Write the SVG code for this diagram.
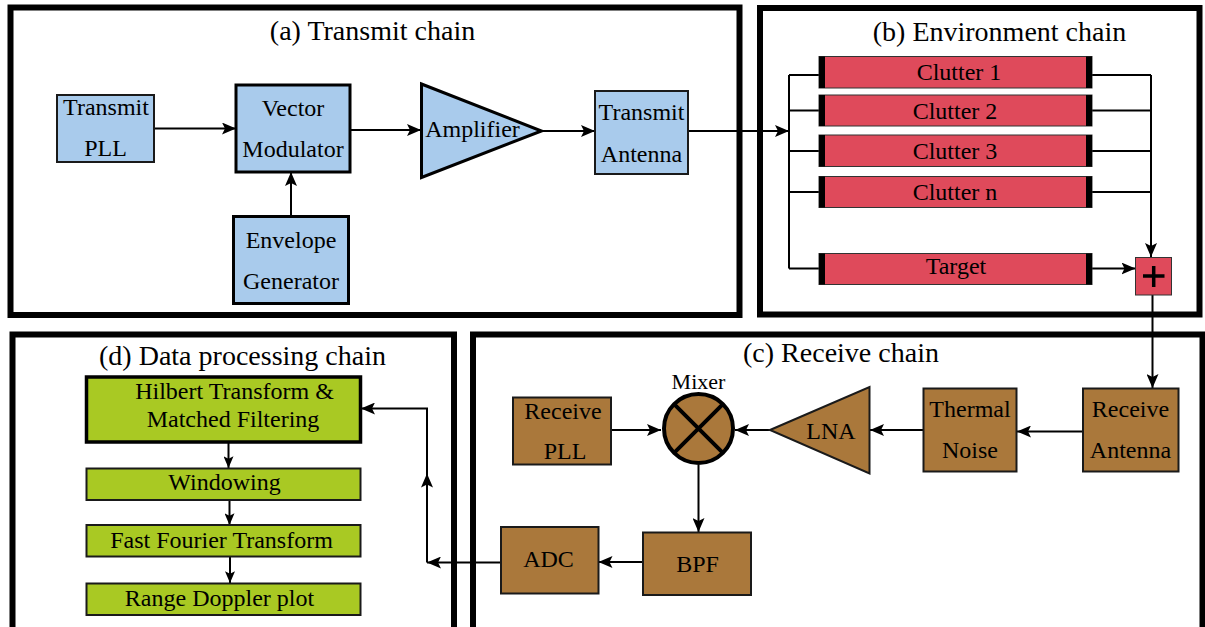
<svg xmlns="http://www.w3.org/2000/svg" width="1205" height="627" viewBox="0 0 1205 627">
  <style>
    .title { font-size: 28px; text-anchor: middle; }
    .lbl { font-size: 24px; text-anchor: middle; }
    .panel { fill: #fff; stroke: #000; stroke-width: 6; }
    .tx { fill: #a9cbec; stroke: #1a1a1a; stroke-width: 2; }
    .txb { fill: #a9cbec; stroke: #000; stroke-width: 3; }
    .rx { fill: #aa783b; stroke: #1a1a1a; stroke-width: 2; }
    .env { fill: #df4a5b; stroke: #333; stroke-width: 1; }
    .cap { fill: #000; }
    .dp { fill: #a9c923; stroke: #1a1a1a; stroke-width: 2; }
    .dpb { fill: #a9c923; stroke: #000; stroke-width: 3.5; }
    .wire { fill: none; stroke: #000; stroke-width: 2; }
    .arr { marker-end: url(#ah); }
    .arrs { marker-end: url(#ahs); }
  </style>
  <defs>
    <marker id="ah" markerUnits="userSpaceOnUse" viewBox="0 0 14 12" markerWidth="14" markerHeight="12" refX="14" refY="6" orient="auto">
      <path d="M0,0 L14,6 L0,12 L3,6 Z" fill="#000"/>
    </marker>
    <marker id="ahs" markerUnits="userSpaceOnUse" viewBox="0 0 14 12" markerWidth="12" markerHeight="10" refX="14" refY="6" orient="auto">
      <path d="M0,0 L14,6 L0,12 L3,6 Z" fill="#000"/>
    </marker>
  </defs>

  <rect width="1205" height="627" fill="#fff"/>

  <g font-family="'Liberation Serif', 'Times New Roman', Times, 'DejaVu Serif', serif" fill="#000">

  <!-- chain frames -->
  <g id="frames">
    <rect class="panel" x="10.5" y="7.5" width="729" height="307.5"/>
    <rect class="panel" x="760" y="8" width="439.5" height="306.5"/>
    <rect class="panel" x="12.5" y="334.5" width="441.5" height="310"/>
    <rect class="panel" x="473" y="334.5" width="729.5" height="310"/>
    <text class="title" x="372.5" y="40">(a) Transmit chain</text>
    <text class="title" x="999.5" y="40.5">(b) Environment chain</text>
    <text class="title" x="242.5" y="365">(d) Data processing chain</text>
    <text class="title" x="841" y="362">(c) Receive chain</text>
  </g>

  <!-- connectors -->
  <g id="connectors">
    <!-- transmit chain -->
    <path class="wire arr" d="M154,128.5 H236"/>
    <path class="wire arr" d="M291,216 V172"/>
    <path class="wire arr" d="M350,130 H421"/>
    <path class="wire arr" d="M542,131 H595"/>
    <path class="wire arr" d="M688,131 H789"/>
    <!-- environment fan-out -->
    <path class="wire" d="M789,75 V268.5 M789,75 H820 M789,110.5 H820 M789,151 H820 M789,192 H820 M789,268.5 H820"/>
    <!-- environment fan-in -->
    <path class="wire" d="M1092,75 H1151 M1092,110.5 H1151 M1092,151 H1151 M1092,192 H1151"/>
    <path class="wire arr" d="M1151,75 V257"/>
    <path class="wire arr" d="M1092,268.5 H1135.5"/>
    <path class="wire arr" d="M1152.5,295 V388"/>
    <!-- receive chain -->
    <path class="wire arr" d="M1082.5,431.5 H1017"/>
    <path class="wire arr" d="M923,430 H870"/>
    <path class="wire arr" d="M770,430 H735"/>
    <path class="wire arr" d="M611,430 H661"/>
    <path class="wire arr" d="M698.5,465 V532"/>
    <path class="wire arr" d="M642.5,562 H598.5"/>
    <!-- ADC to data processing -->
    <path class="wire arr" d="M500.5,562.5 H427"/>
    <path class="wire arr" d="M427,562.5 V473.5"/>
    <path class="wire arr" d="M427,476 V408.5 H361"/>
    <!-- data processing chain -->
    <path class="wire arrs" d="M228.5,442.5 V468"/>
    <path class="wire arrs" d="M229.5,500 V525"/>
    <path class="wire arrs" d="M230,557 V583"/>
  </g>

  <!-- transmit chain -->
  <g id="transmit-pll">
    <rect class="tx" x="57" y="95" width="97" height="67"/>
    <text class="lbl" x="106" y="115">Transmit</text>
    <text class="lbl" x="105.5" y="156">PLL</text>
  </g>
  <g id="vector-modulator">
    <rect class="txb" x="236" y="85" width="114" height="87"/>
    <text class="lbl" x="293" y="116">Vector</text>
    <text class="lbl" x="293" y="157">Modulator</text>
  </g>
  <g id="envelope-generator">
    <rect class="txb" x="233.5" y="216.5" width="115" height="87"/>
    <text class="lbl" x="291" y="248">Envelope</text>
    <text class="lbl" x="291" y="289">Generator</text>
  </g>
  <g id="amplifier">
    <polygon class="txb" points="421.5,84 541.5,131 421.5,177.5"/>
    <text class="lbl" x="472.5" y="137">Amplifier</text>
  </g>
  <g id="transmit-antenna">
    <rect class="tx" x="595" y="91" width="93" height="83"/>
    <text class="lbl" x="641.5" y="120">Transmit</text>
    <text class="lbl" x="641.5" y="161.5">Antenna</text>
  </g>

  <!-- environment chain -->
  <g id="clutter-1">
    <rect class="env" x="819" y="56.5" width="273" height="31.5"/>
    <rect class="cap" x="819" y="56.5" width="6" height="31.5"/>
    <rect class="cap" x="1086" y="56.5" width="6" height="31.5"/>
    <text class="lbl" x="959" y="80">Clutter 1</text>
  </g>
  <g id="clutter-2">
    <rect class="env" x="819" y="95" width="273" height="31"/>
    <rect class="cap" x="819" y="95" width="6" height="31"/>
    <rect class="cap" x="1086" y="95" width="6" height="31"/>
    <text class="lbl" x="955" y="118.5">Clutter 2</text>
  </g>
  <g id="clutter-3">
    <rect class="env" x="819" y="135" width="273" height="31.5"/>
    <rect class="cap" x="819" y="135" width="6" height="31.5"/>
    <rect class="cap" x="1086" y="135" width="6" height="31.5"/>
    <text class="lbl" x="955" y="158.5">Clutter 3</text>
  </g>
  <g id="clutter-n">
    <rect class="env" x="819" y="176.5" width="273" height="31"/>
    <rect class="cap" x="819" y="176.5" width="6" height="31"/>
    <rect class="cap" x="1086" y="176.5" width="6" height="31"/>
    <text class="lbl" x="955" y="200">Clutter n</text>
  </g>
  <g id="target">
    <rect class="env" x="819" y="253.5" width="273" height="31"/>
    <rect class="cap" x="819" y="253.5" width="6" height="31"/>
    <rect class="cap" x="1086" y="253.5" width="6" height="31"/>
    <text class="lbl" x="956" y="273.5">Target</text>
  </g>
  <g id="summer">
    <rect class="env" x="1135.5" y="257.5" width="36" height="37.5" stroke="#1a1a1a" stroke-width="2"/>
    <path d="M1143,276 H1164.5 M1153.7,266 V287" stroke="#000" stroke-width="3.5" fill="none"/>
  </g>

  <!-- receive chain -->
  <g id="receive-antenna">
    <rect class="rx" x="1083" y="388.5" width="95.5" height="83"/>
    <text class="lbl" x="1130.5" y="416.5">Receive</text>
    <text class="lbl" x="1130.5" y="457.5">Antenna</text>
  </g>
  <g id="thermal-noise">
    <rect class="rx" x="923.5" y="388.5" width="93" height="83"/>
    <text class="lbl" x="970" y="417">Thermal</text>
    <text class="lbl" x="970" y="458">Noise</text>
  </g>
  <g id="lna">
    <polygon class="rx" points="770,430 869.5,387 869.5,473.5" stroke="#000" stroke-width="3"/>
    <text class="lbl" x="831" y="438.5">LNA</text>
  </g>
  <g id="mixer">
    <text x="698.5" y="388.5" font-size="22" text-anchor="middle">Mixer</text>
    <circle cx="698.5" cy="428.5" r="34.5" fill="#aa783b" stroke="#000" stroke-width="4"/>
    <path d="M674.1,404.1 L722.9,452.9 M722.9,404.1 L674.1,452.9" stroke="#000" stroke-width="4" fill="none"/>
  </g>
  <g id="receive-pll">
    <rect class="rx" x="513" y="397.5" width="98" height="67"/>
    <text class="lbl" x="563" y="418.5">Receive</text>
    <text class="lbl" x="565" y="458.5">PLL</text>
  </g>
  <g id="bpf">
    <rect class="rx" x="643" y="532.5" width="108" height="62.5"/>
    <text class="lbl" x="697.5" y="571.5">BPF</text>
  </g>
  <g id="adc">
    <rect class="rx" x="501" y="527" width="97.5" height="66.5"/>
    <text class="lbl" x="548.5" y="566.5">ADC</text>
  </g>

  <!-- data processing chain -->
  <g id="hilbert-matched">
    <rect class="dpb" x="86.5" y="377" width="274" height="65"/>
    <text class="lbl" x="234.5" y="398.5">Hilbert Transform &amp;</text>
    <text class="lbl" x="233" y="426.5">Matched Filtering</text>
  </g>
  <g id="windowing">
    <rect class="dp" x="86.5" y="468.5" width="274" height="31.5"/>
    <text class="lbl" x="224.5" y="490">Windowing</text>
  </g>
  <g id="fft">
    <rect class="dp" x="86.5" y="525" width="274" height="31.5"/>
    <text class="lbl" x="221.5" y="547.5">Fast Fourier Transform</text>
  </g>
  <g id="range-doppler">
    <rect class="dp" x="86.5" y="583.5" width="274" height="31.5"/>
    <text class="lbl" x="219.5" y="605.5">Range Doppler plot</text>
  </g>

  </g>
</svg>
